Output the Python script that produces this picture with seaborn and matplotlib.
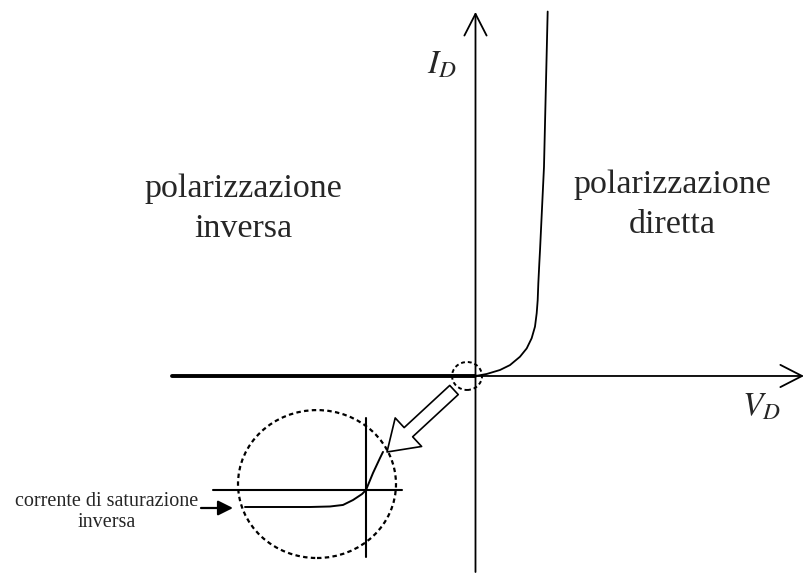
import numpy as np
import pandas as pd
import matplotlib.pyplot as plt
from matplotlib.patches import Ellipse
import seaborn as sns

# forward characteristic (V, mA)
fwd_v = [0, 0.124, 0.272, 0.383, 0.494, 0.569, 0.624, 0.661, 0.680, 0.691, 0.698, 0.709, 0.717, 0.761, 0.783, 0.802]
fwd_i = [0, 0.55, 1.65, 3.0, 5.3, 7.6, 10.4, 13.6, 17.3, 20.9, 25.5, 31.0, 34.7, 57.6, 80.7, 100.4]

# reverse bias (current ~ 0 at this scale)
rev_v = [-3.37, 0]
rev_i = [0, 0]

# zoomed view near the origin (mV, in units of the saturation current)
ins_v = [-60.5, -28, -18, -11.5, -6.5, -2, 0, 3.5, 7, 8.5]
ins_i = [-1.0, -1.0, -0.97, -0.88, -0.59, -0.24, 0, 1.0, 1.88, 2.24]

fwd = pd.DataFrame({'V': fwd_v, 'I': fwd_i})
rev = pd.DataFrame({'V': rev_v, 'I': rev_i})
ins = pd.DataFrame({'V': ins_v, 'I': ins_i})

sns.set_theme(style='white')
plt.rcParams['font.family'] = ['Liberation Serif', 'DejaVu Serif']
plt.rcParams['mathtext.fontset'] = 'stix'

W, H = 805, 574
fig = plt.figure(figsize=(W / 100, H / 100), dpi=100)


def px(x, y):
    return x / W, 1 - y / H


ax = fig.add_axes([0, 0, 1, 1])
sns.lineplot(data=rev, x='V', y='I', ax=ax, color='black', linewidth=2.8, sort=False, estimator=None)
sns.lineplot(data=fwd, x='V', y='I', ax=ax, color='black', linewidth=1.3, sort=False, estimator=None)
ax.set_xlim(-5.283, 3.661)
ax.set_ylim(-54.55, 103.58)
ax.axis('off')

head = '->,head_length=0.78,head_width=0.4'
ax.annotate('', xy=(3.65, 0), xytext=(-3.37, 0),
            arrowprops=dict(arrowstyle=head, lw=1.3, color='black', shrinkA=0, shrinkB=0, mutation_scale=20))
ax.annotate('', xy=(0, 100.3), xytext=(0, -54),
            arrowprops=dict(arrowstyle=head, lw=1.3, color='black', shrinkA=0, shrinkB=0, mutation_scale=20))

# small dashed circle at the origin
ax.add_patch(Ellipse((-0.094, 0), 0.333, 7.7, fill=False, ec='black', lw=1.4, ls=(0, (2, 1.5))))

# hollow arrow to the zoom
ax.annotate('', xy=(387, H - 452), xycoords='figure pixels', xytext=(454, H - 390), textcoords='figure pixels',
            arrowprops=dict(arrowstyle='simple,head_length=1.05,head_width=1.4,tail_width=0.45',
                            fc='white', ec='black', lw=1.2, mutation_scale=20, shrinkA=0, shrinkB=0))

fig.text(*px(442, 65), '$I_D$', fontsize=24, ha='center', va='center')
fig.text(*px(761, 407), '$V_D$', fontsize=24, ha='center', va='center')
fig.text(*px(243, 209), 'polarizzazione\ninversa', fontsize=24.5, ha='center', va='center',
         multialignment='center', linespacing=1.4)
fig.text(*px(672, 205), 'polarizzazione\ndiretta', fontsize=24.5, ha='center', va='center',
         multialignment='center', linespacing=1.4)
fig.text(*px(107, 512), 'corrente di saturazione\ninversa', fontsize=14.5, ha='center', va='center',
         multialignment='center', linespacing=1.15)
ax.annotate('', xy=(233, H - 508), xycoords='figure pixels', xytext=(201, H - 508), textcoords='figure pixels',
            arrowprops=dict(arrowstyle='-|>,head_length=0.6,head_width=0.3', fc='black', ec='black',
                            lw=1.6, mutation_scale=15, shrinkA=0, shrinkB=0))

# inset
ax2 = fig.add_axes([200 / W, 1 - 570 / H, 220 / W, 170 / H])
ax2.patch.set_alpha(0)
ax2.plot([-76.5, 18], [0, 0], color='black', lw=1.5)
ax2.plot([0, 0], [-3.94, 4.24], color='black', lw=1.5)
sns.lineplot(data=ins, x='V', y='I', ax=ax2, color='black', linewidth=1.4, sort=False, estimator=None)
ax2.add_patch(Ellipse((-24.5, 0.35), 79, 8.7, fill=False, ec='black', lw=1.6, ls=(0, (2, 1.5))))
ax2.set_xlim(-83, 27)
ax2.set_ylim(-4.706, 5.294)
ax2.axis('off')

fig.savefig('out.png', dpi=100, facecolor='white')
